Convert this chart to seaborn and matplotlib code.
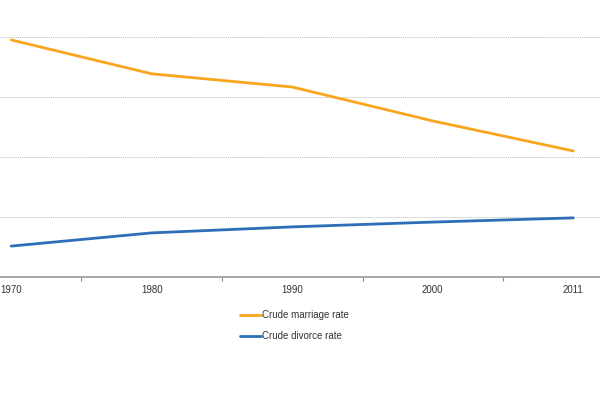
import pandas as pd
import seaborn as sns
import matplotlib.pyplot as plt

years = ['1970', '1980', '1990', '2000', '2011']
marriage_rate = [7.9, 6.77, 6.33, 5.2, 4.2]
divorce_rate = [1.03, 1.47, 1.67, 1.83, 1.97]
series_names = ['Crude marriage rate', 'Crude divorce rate']

df = pd.DataFrame({
    'year': years * 2,
    'rate': marriage_rate + divorce_rate,
    'series': [series_names[0]] * len(years) + [series_names[1]] * len(years),
})

sns.set_style('white')
plt.rcParams['font.family'] = ['Liberation Sans', 'DejaVu Sans']

fig = plt.figure(figsize=(6, 4), dpi=100)
ax = fig.add_axes([0, 0.3075, 1, 0.6925])

sns.lineplot(data=df, x='year', y='rate', hue='series', sort=False,
             palette=['#F9A51E', '#2E6DB8'], linewidth=2, ax=ax, legend=False)

ax.set_xlim(-0.08, 4.19)
ax.set_ylim(0, 9.23)
ax.set_yticks([2, 4, 6, 8])
ax.yaxis.grid(True, color='#bbbbbb', linestyle=(0, (1, 1)), linewidth=0.7)
ax.set_yticklabels([])
ax.tick_params(axis='y', length=0)

ax.set_xticks(range(len(years)))
ax.set_xticklabels(years)
ax.set_xticks([0.5, 1.5, 2.5, 3.5], minor=True)
ax.tick_params(axis='x', which='major', length=0, pad=6, labelsize=7, labelcolor='#333333')
ax.tick_params(axis='x', which='minor', length=3, width=0.8, color='#888888', direction='out', bottom=True)

for s in ['top', 'left', 'right']:
    ax.spines[s].set_visible(False)
ax.spines['bottom'].set_color('#999999')
ax.spines['bottom'].set_linewidth(1.2)
ax.set_xlabel('')
ax.set_ylabel('')

handles = [plt.Line2D([], [], color=c, linewidth=2) for c in ['#F9A51E', '#2E6DB8']]
fig.legend(handles, series_names, loc='upper left', bbox_to_anchor=(0.385, 0.246),
           frameon=False, fontsize=7, handlelength=2.2, handletextpad=0.1,
           labelspacing=1.1, labelcolor='#333333')

fig.savefig('out.png', dpi=100)
